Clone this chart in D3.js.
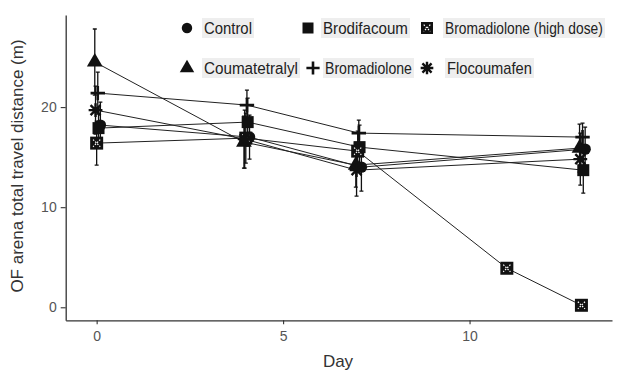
<!DOCTYPE html>
<html>
<head>
<meta charset="utf-8">
<script src="https://cdn.jsdelivr.net/npm/d3@7/dist/d3.min.js"></script>
<style>
  html, body { margin: 0; padding: 0; background: #fff; }
  svg { display: block; }
</style>
</head>
<body>
<div id="chart"></div>
<script>
// days measured, per series
const DAYS = [0, 4, 7, 13];
const HD_DAYS = [0, 4, 7, 11, 13];

// series names (legend order)
const SERIES = ["Control", "Brodifacoum", "Bromadiolone (high dose)", "Coumatetralyl", "Bromadiolone", "Flocoumafen"];

// mean distance (m)
const CONTROL = [18.2, 17.0, 14.0, 15.8];
const BRODIFACOUM = [17.9, 18.5, 16.0, 13.7];
const HIGH_DOSE = [16.4, 16.9, 15.6, 3.9, 0.2];
const COUMATETRALYL = [24.5, 16.5, 14.2, 15.9];
const BROMADIOLONE = [21.4, 20.2, 17.4, 17.0];
const FLOCOUMAFEN = [19.7, 16.8, 13.7, 14.8];

// standard error (m)
const CONTROL_SE = [2.3, 2.2, 2.4, 2.2];
const BRODIFACOUM_SE = [2.0, 2.4, 2.2, 2.3];
const HIGH_DOSE_SE = [2.2, 2.5, 2.0, 0.3, 0.2];
const COUMATETRALYL_SE = [3.3, 2.6, 2.2, 2.4];
const BROMADIOLONE_SE = [2.1, 1.5, 1.3, 1.4];
const FLOCOUMAFEN_SE = [2.4, 2.9, 2.6, 2.6];

const X_TICKS = [0, 5, 10];
const Y_TICKS = [0, 10, 20];

const W = 618, H = 374;
const svg = d3.select("#chart").append("svg").attr("width", W).attr("height", H);

const x = d3.scaleLinear().domain([-0.83, 13.82]).range([65.7, 612]);
const y = d3.scaleLinear().domain([-1.3, 29.2]).range([320.3, 15]);

const font = "'Liberation Sans', Arial, sans-serif";

// axes
const ax = svg.append("g").attr("transform", `translate(0,320.3)`)
  .call(d3.axisBottom(x).tickValues(X_TICKS).tickSize(4).tickSizeOuter(0).tickPadding(7));
const ay = svg.append("g").attr("transform", `translate(65.7,0)`)
  .call(d3.axisLeft(y).tickValues(Y_TICKS).tickSize(5).tickSizeOuter(0).tickPadding(4));
[ax, ay].forEach(a => {
  a.select(".domain").attr("stroke", "#333").attr("stroke-width", 1.3);
  a.selectAll(".tick line").attr("stroke", "#333").attr("stroke-width", 1.1);
  a.selectAll(".tick text").attr("fill", "#555").attr("font-family", font).attr("font-size", 14);
});

svg.append("text").attr("x", 338).attr("y", 367).attr("text-anchor", "middle")
  .attr("font-family", font).attr("font-size", 17).attr("fill", "#333").text("Day");
svg.append("text").attr("transform", "translate(23,166) rotate(-90)").attr("text-anchor", "middle")
  .attr("font-family", font).attr("font-size", 17).attr("fill", "#333")
  .text("OF arena total travel distance (m)");

const rows = [
  { name: SERIES[0], days: DAYS, v: CONTROL, se: CONTROL_SE, shape: "circle", dx: 0.1 },
  { name: SERIES[1], days: DAYS, v: BRODIFACOUM, se: BRODIFACOUM_SE, shape: "square", dx: 0.05 },
  { name: SERIES[2], days: HD_DAYS, v: HIGH_DOSE, se: HIGH_DOSE_SE, shape: "xsquare", dx: 0 },
  { name: SERIES[3], days: DAYS, v: COUMATETRALYL, se: COUMATETRALYL_SE, shape: "triangle", dx: -0.05 },
  { name: SERIES[4], days: DAYS, v: BROMADIOLONE, se: BROMADIOLONE_SE, shape: "plus", dx: 0.03 },
  { name: SERIES[5], days: DAYS, v: FLOCOUMAFEN, se: FLOCOUMAFEN_SE, shape: "star", dx: -0.03 },
];

function drawShape(g, shape, cx, cy, s) {
  const k = s / 2;
  if (shape === "circle") {
    g.append("circle").attr("cx", cx).attr("cy", cy).attr("r", k * 0.95).attr("fill", "#111");
  } else if (shape === "square") {
    g.append("rect").attr("x", cx - k).attr("y", cy - k).attr("width", s).attr("height", s).attr("fill", "#111");
  } else if (shape === "xsquare") {
    g.append("rect").attr("x", cx - k).attr("y", cy - k).attr("width", s).attr("height", s).attr("fill", "#111");
    g.append("path").attr("d", `M${cx - k * 0.55},${cy - k * 0.55}L${cx + k * 0.55},${cy + k * 0.55}M${cx + k * 0.55},${cy - k * 0.55}L${cx - k * 0.55},${cy + k * 0.55}`)
      .attr("stroke", "#fff").attr("stroke-width", 1.2).attr("stroke-dasharray", "1.5 1.5");
  } else if (shape === "triangle") {
    g.append("path").attr("d", d3.symbol(d3.symbolTriangle, s * s * 0.75)()).attr("transform", `translate(${cx},${cy})`).attr("fill", "#111");
  } else if (shape === "plus") {
    g.append("path").attr("d", `M${cx - k * 1.2},${cy}H${cx + k * 1.2}M${cx},${cy - k * 1.2}V${cy + k * 1.2}`)
      .attr("stroke", "#111").attr("stroke-width", 2.6);
  } else if (shape === "star") {
    const r = k * 1.15;
    let d = `M${cx - r},${cy}H${cx + r}M${cx},${cy - r}V${cy + r}`;
    const q = r * 0.72;
    d += `M${cx - q},${cy - q}L${cx + q},${cy + q}M${cx + q},${cy - q}L${cx - q},${cy + q}`;
    g.append("path").attr("d", d).attr("stroke", "#111").attr("stroke-width", 2.4);
  }
}

const plot = svg.append("g");
const line = d3.line().x(d => x(d.day + d.dx)).y(d => y(d.v));

rows.forEach(r => {
  const pts = r.days.map((day, i) => ({ day, v: r.v[i], se: r.se[i], dx: r.dx }));
  plot.append("path").datum(pts).attr("fill", "none").attr("stroke", "#222").attr("stroke-width", 1).attr("d", line);
  pts.forEach(p => {
    const cx = x(p.day + p.dx);
    plot.append("path")
      .attr("d", `M${cx},${y(p.v - p.se)}V${y(p.v + p.se)}M${cx - 2},${y(p.v - p.se)}H${cx + 2}M${cx - 2},${y(p.v + p.se)}H${cx + 2}`)
      .attr("stroke", "#111").attr("stroke-width", 1.3).attr("fill", "none");
  });
});
rows.forEach(r => {
  r.days.forEach((day, i) => {
    const s = r.shape === "xsquare" ? 13 : 12;
    drawShape(plot, r.shape, x(day + r.dx), y(r.v[i]), s);
  });
});

// legend (narrow lettering: squeezed horizontally to the reference widths)
const LEG = [
  { i: 0, sx: 187, sy: 28, tx: 204, w: 48 },
  { i: 1, sx: 308, sy: 28, tx: 323, w: 85 },
  { i: 2, sx: 427, sy: 28, tx: 445, w: 158 },
  { i: 3, sx: 187, sy: 68, tx: 204, w: 94 },
  { i: 4, sx: 313, sy: 68, tx: 325, w: 87 },
  { i: 5, sx: 427, sy: 68, tx: 447, w: 85 },
];
const leg = svg.append("g");
LEG.forEach(l => {
  const r = rows[l.i];
  leg.append("rect").attr("x", l.tx - 2).attr("y", l.sy - 10).attr("width", l.w + 4).attr("height", 20)
    .attr("fill", "#eeeeee");
  const t = leg.append("text").attr("x", 0).attr("y", 0)
    .attr("font-family", font).attr("font-size", 16).attr("fill", "#222").text(r.name);
  const nat = t.node().getComputedTextLength();
  t.attr("transform", `translate(${l.tx},${l.sy + 6}) scale(${l.w / nat},1)`);
  drawShape(leg, r.shape, l.sx, l.sy, r.shape === "xsquare" ? 12 : 11);
});
</script>
</body>
</html>
